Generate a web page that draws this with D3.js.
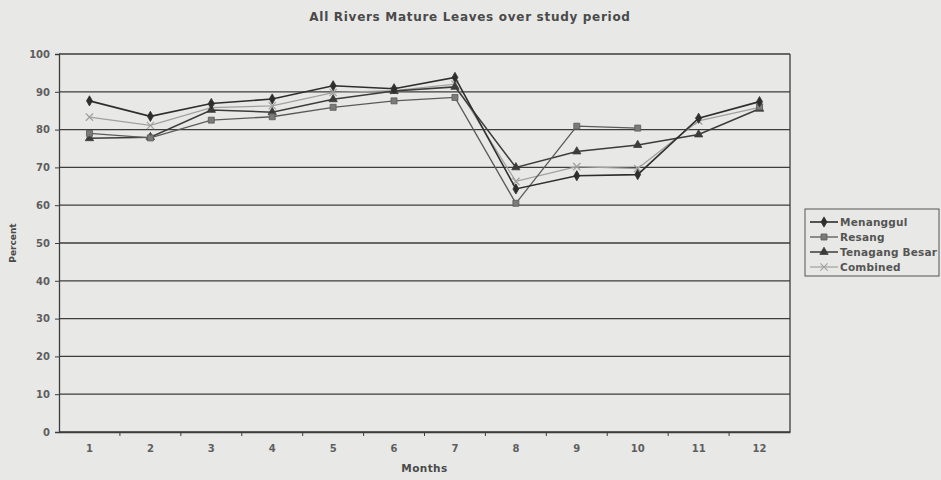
<!DOCTYPE html>
<html>
<head>
<meta charset="utf-8">
<script src="https://cdn.jsdelivr.net/npm/d3@7"></script>
<style>
  body { margin: 0; background: #e8e8e6; }
  svg { display: block; font-family: "DejaVu Sans", Arial, sans-serif; }
</style>
</head>
<body>
<div id="chart"></div>
<script>
const months = [1, 2, 3, 4, 5, 6, 7, 8, 9, 10, 11, 12];
const yTicks = [0, 10, 20, 30, 40, 50, 60, 70, 80, 90, 100];

const menanggul = [87.6, 83.5, 86.9, 88.1, 91.6, 90.8, 93.8, 64.3, 67.8, 68.1, 83.0, 87.4];
const resang    = [79.0, 77.8, 82.5, 83.4, 85.9, 87.6, 88.5, 60.5, 80.9, 80.4, null, 86.0];
const tenagang  = [77.7, 78.0, 85.2, 84.6, 88.0, 90.2, 91.3, 70.0, 74.2, 75.9, 78.7, 85.5];
const combined  = [83.3, 81.1, 85.8, 86.3, 89.8, 90.3, 92.0, 66.3, 70.2, 69.7, 82.3, 85.9];

const seriesNames = ["Menanggul", "Resang", "Tenagang Besar", "Combined"];

const W = 941, H = 480;
const MARGIN = { TOP: 54, BOTTOM: 48, LEFT: 59, RIGHT: 151 };
const WIDTH = W - MARGIN.LEFT - MARGIN.RIGHT;
const HEIGHT = H - MARGIN.TOP - MARGIN.BOTTOM;
const FONT = "DejaVu Sans, Arial, sans-serif";

const series = [
  { name: seriesNames[0], values: menanggul, color: "#2e2e2e", fill: "#2e2e2e", symbol: d3.symbolDiamond, size: 30, width: 1.6 },
  { name: seriesNames[1], values: resang,    color: "#5a5a5a", fill: "#7a7a7a", symbol: d3.symbolSquare,  size: 36, width: 1.3 },
  { name: seriesNames[2], values: tenagang,  color: "#3c3c3c", fill: "#3c3c3c", symbol: d3.symbolTriangle, size: 30, width: 1.5 },
  { name: seriesNames[3], values: combined,  color: "#a0a0a0", fill: "none",    symbol: d3.symbolTimes,   size: 36, width: 1.2 }
];

const svg = d3.select("#chart").append("svg")
    .attr("width", W)
    .attr("height", H);

svg.append("rect").attr("width", W).attr("height", H).attr("fill", "#e8e8e6");

const g = svg.append("g")
    .attr("transform", `translate(${MARGIN.LEFT}, ${MARGIN.TOP})`);

const x = d3.scaleBand().domain(months).range([0, WIDTH]);
const y = d3.scaleLinear().domain([0, 100]).range([HEIGHT, 0]);
const cx = d => x(d) + x.bandwidth() / 2;

// gridlines
g.append("g")
  .selectAll("line")
  .data(yTicks)
  .join("line")
    .attr("x1", 0)
    .attr("x2", WIDTH)
    .attr("y1", d => y(d))
    .attr("y2", d => y(d))
    .attr("stroke", "#3d3d3d")
    .attr("stroke-width", 1.3);

// right side of the frame
g.append("line").attr("x1", WIDTH).attr("x2", WIDTH).attr("y1", 0).attr("y2", HEIGHT)
    .attr("stroke", "#3d3d3d").attr("stroke-width", 1.3);

// y axis
const yAxis = g.append("g")
    .call(d3.axisLeft(y).tickValues(yTicks).tickSize(4).tickPadding(5));
yAxis.select(".domain").attr("stroke", "#3d3d3d").attr("stroke-width", 1.3);
yAxis.selectAll(".tick line").attr("stroke", "#3d3d3d");
yAxis.selectAll("text")
    .attr("fill", "#5e5e5e")
    .attr("font-size", 10)
    .attr("font-weight", "bold")
    .attr("font-family", FONT);

// x axis: labels centred in bands, ticks at band boundaries
const xAxis = g.append("g")
    .attr("transform", `translate(0, ${HEIGHT})`)
    .call(d3.axisBottom(x).tickSize(0).tickPadding(13));
xAxis.select(".domain").attr("stroke", "#3d3d3d").attr("stroke-width", 1.5);
xAxis.selectAll("text")
    .attr("fill", "#5e5e5e")
    .attr("font-size", 10)
    .attr("font-weight", "bold")
    .attr("font-family", FONT);
xAxis.selectAll(".bound")
  .data(months.slice(1))
  .join("line")
    .attr("class", "bound")
    .attr("x1", d => x(d))
    .attr("x2", d => x(d))
    .attr("y1", 0)
    .attr("y2", 4)
    .attr("stroke", "#3d3d3d");

// series lines and markers
const line = d3.line()
    .defined(d => d.v != null)
    .x(d => cx(d.m))
    .y(d => y(d.v));

series.slice().reverse().forEach(s => {
  const pts = months.map((m, i) => ({ m, v: s.values[i] }));
  g.append("path")
      .datum(pts)
      .attr("fill", "none")
      .attr("stroke", s.color)
      .attr("stroke-width", s.width)
      .attr("d", line);
  g.append("g")
    .selectAll("path")
    .data(pts.filter(d => d.v != null))
    .join("path")
      .attr("transform", d => `translate(${cx(d.m)}, ${y(d.v)})`)
      .attr("d", d3.symbol().type(s.symbol).size(s.size))
      .attr("fill", s.fill)
      .attr("stroke", s.color)
      .attr("stroke-width", s.fill === "none" ? 1.2 : 0.8);
});

// title and axis labels
svg.append("text")
    .attr("x", 470)
    .attr("y", 21)
    .attr("text-anchor", "middle")
    .attr("font-size", 12)
    .attr("letter-spacing", 0.7)
    .attr("font-weight", "bold")
    .attr("fill", "#4a4a4a")
    .text("All Rivers Mature Leaves over study period");

svg.append("text")
    .attr("x", MARGIN.LEFT + WIDTH / 2)
    .attr("y", 472)
    .attr("text-anchor", "middle")
    .attr("font-size", 10.5)
    .attr("letter-spacing", 0.4)
    .attr("font-weight", "bold")
    .attr("fill", "#4a4a4a")
    .text("Months");

svg.append("text")
    .attr("transform", `translate(16, ${MARGIN.TOP + HEIGHT / 2}) rotate(-90)`)
    .attr("text-anchor", "middle")
    .attr("font-size", 9)
    .attr("font-weight", "bold")
    .attr("fill", "#4a4a4a")
    .text("Percent");

// legend
const legend = svg.append("g").attr("transform", "translate(805, 209)");
legend.append("rect")
    .attr("width", 134)
    .attr("height", 67)
    .attr("fill", "none")
    .attr("stroke", "#555")
    .attr("stroke-width", 1);

const item = legend.selectAll(".item")
  .data(series)
  .join("g")
    .attr("class", "item")
    .attr("transform", (d, i) => `translate(0, ${13 + i * 15})`);
item.append("line")
    .attr("x1", 5).attr("x2", 33)
    .attr("stroke", d => d.color)
    .attr("stroke-width", d => d.width);
item.append("path")
    .attr("transform", "translate(19, 0)")
    .attr("d", d => d3.symbol().type(d.symbol).size(d.size)())
    .attr("fill", d => d.fill)
    .attr("stroke", d => d.color)
    .attr("stroke-width", d => d.fill === "none" ? 1.2 : 0.8);
item.append("text")
    .attr("x", 35)
    .attr("y", 4)
    .attr("font-size", 10.5)
    .attr("letter-spacing", 0.2)
    .attr("font-weight", "bold")
    .attr("fill", "#555")
    .text(d => d.name);
</script>
</body>
</html>
